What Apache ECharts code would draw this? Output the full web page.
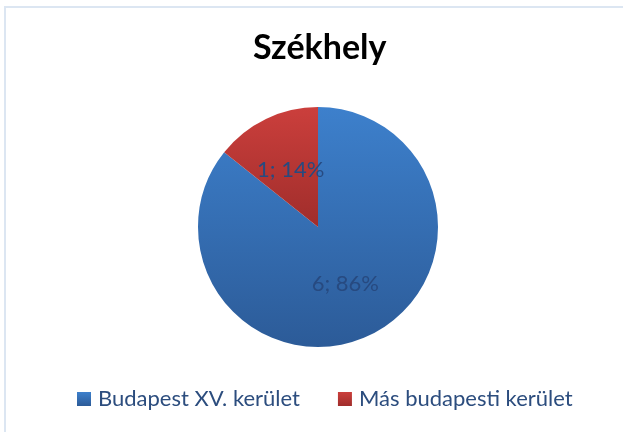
<!DOCTYPE html>
<html>
<head>
<meta charset="utf-8">
<script src="https://cdn.jsdelivr.net/npm/echarts@6/dist/echarts.min.js"></script>
<style>
  html, body { margin: 0; padding: 0; background: #fff; }
  #chart { width: 623px; height: 432px; }
</style>
</head>
<body>
<div id="chart"></div>
<script>
var titleText = 'Székhely';
var categories = ['Budapest XV. kerület', 'Más budapesti kerület'];
var values = [6, 1];
var colorTop = ['#3d80cc', '#cb3f3c'];
var colorBottom = ['#2c5b98', '#a02d2b'];

var chart = echarts.init(document.getElementById('chart'));

function grad(i) {
  return new echarts.graphic.LinearGradient(0, 0, 0, 1, [
    { offset: 0, color: colorTop[i] },
    { offset: 1, color: colorBottom[i] }
  ]);
}

var option = {
  animation: false,
  textStyle: { fontFamily: 'Lato' },
  graphic: [{
    type: 'rect',
    shape: { x: 5, y: 7, width: 700, height: 600 },
    style: { fill: 'none', stroke: '#dce6f2', lineWidth: 2 },
    silent: true
  }],
  title: {
    text: titleText,
    left: 248,
    top: 26,
    textStyle: { fontFamily: 'Lato', fontWeight: 'bold', fontSize: 34, color: '#000' }
  },
  legend: {
    top: 383,
    left: 72,
    icon: 'rect',
    itemWidth: 14,
    itemHeight: 14,
    itemGap: 38,
    textStyle: { fontFamily: 'Lato', fontSize: 22, color: '#2c4d7e', padding: [0, 0, 0, 2] },
    data: categories
  },
  series: [{
    type: 'pie',
    center: [318, 227],
    radius: 120,
    startAngle: 90,
    clockwise: true,
    label: {
      show: true,
      position: 'inside',
      fontFamily: 'Lato',
      fontSize: 22,
      color: '#274a80',
      formatter: function (p) { return p.value + '; ' + Math.round(p.percent) + '%'; }
    },
    labelLine: { show: false },
    itemStyle: { borderWidth: 0 },
    emphasis: { disabled: true },
    data: categories.map(function (c, i) {
      return { name: c, value: values[i], itemStyle: { color: grad(i) } };
    })
  }]
};
chart.setOption(option);
</script>
</body>
</html>
